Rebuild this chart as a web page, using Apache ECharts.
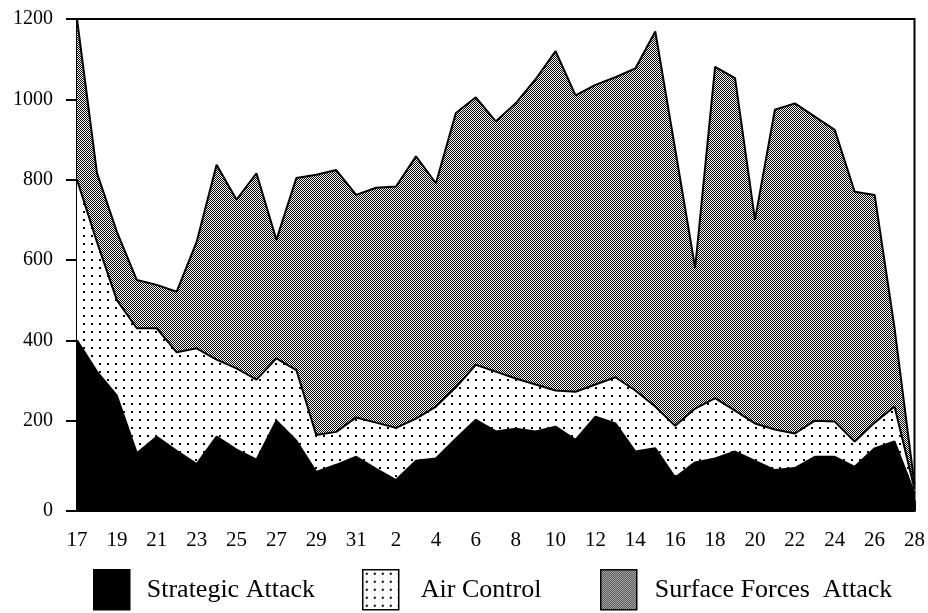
<!DOCTYPE html>
<html><head><meta charset="utf-8">
<script src="https://cdn.jsdelivr.net/npm/echarts@6/dist/echarts.min.js"></script>
<style>html,body{margin:0;padding:0;background:#fff}#c{width:928px;height:613px}</style>
</head><body><div id="c"></div>
<script>
// Days: 17 Jan .. 31 Jan, 1 Feb .. 28 Feb
const days = ['17','18','19','20','21','22','23','24','25','26','27','28','29','30','31',
  '1','2','3','4','5','6','7','8','9','10','11','12','13','14','15','16','17','18','19','20',
  '21','22','23','24','25','26','27','28'];

const strategicAttack = [400,322,262,119,160,125,92,160,128,103,200,150,72,90,110,80,52,100,106,155,
  202,173,180,173,185,152,210,193,123,131,58,96,106,123,100,77,82,110,110,85,131,148,19];

const airControl = [400,323,238,311,270,245,288,192,202,199,155,176,92,82,98,115,130,105,129,128,
  137,149,125,117,90,120,80,115,152,104,129,134,150,102,93,101,86,90,88,63,64,87,11];

const surfaceForcesAttack = [400,172,170,120,108,151,265,485,420,514,295,478,648,652,554,585,601,653,556,683,
  666,623,685,760,845,738,746,747,802,934,688,350,825,828,507,796,822,757,726,622,567,195,10];

const seriesNames = ['Strategic Attack', 'Air Control', 'Surface Forces  Attack'];
const yTicks = [0, 200, 400, 600, 800, 1000, 1200];
const yAxisMin = -25;   // the reference's "0" sits a little below the true zero line
const yAxisMax = 1200;

function makeChecker() {
  const c = document.createElement('canvas'); c.width = 2; c.height = 2;
  const g = c.getContext('2d');
  g.fillStyle = '#fff'; g.fillRect(0, 0, 2, 2);
  g.fillStyle = '#000'; g.fillRect(0, 0, 1, 1); g.fillRect(1, 1, 1, 1);
  return c;
}
function makeDots() {
  const c = document.createElement('canvas'); c.width = 8; c.height = 8;
  const g = c.getContext('2d');
  g.fillStyle = '#fff'; g.fillRect(0, 0, 8, 8);
  g.fillStyle = '#000'; g.fillRect(3, 3, 2, 2);
  return c;
}
const checkerFill = { image: makeChecker(), repeat: 'repeat' };
const dotFill = { image: makeDots(), repeat: 'repeat' };
const fills = ['#000', dotFill, checkerFill];
const values = [strategicAttack, airControl, surfaceForcesAttack];

const chart = echarts.init(document.getElementById('c'), null, { renderer: 'canvas' });
const serif = 'Liberation Serif, Times New Roman, serif';

const legendPos = [93, 362, 600];
const legendPad = [12, 17, 13];

chart.setOption({
  animation: false,
  backgroundColor: '#fff',
  grid: { left: 77, right: 10, top: 19, bottom: 102, show: true, borderColor: '#000', borderWidth: 2, backgroundColor: 'transparent' },
  legend: seriesNames.map((n, i) => ({
    data: [{ name: n, itemStyle: { color: fills[i], borderColor: '#000', borderWidth: 1.5 } }],
    left: legendPos[i], top: 569, padding: 0,
    itemWidth: 36, itemHeight: 40, icon: 'rect',
    selectedMode: false,
    textStyle: { fontFamily: serif, fontSize: 26, color: '#000', padding: [0, 0, 0, legendPad[i]] }
  })),
  xAxis: {
    type: 'category', data: days, boundaryGap: false,
    axisLine: { show: true, lineStyle: { color: '#000', width: 2 } },
    axisTick: { show: true, interval: 0, length: 10, lineStyle: { color: '#000', width: 2 } },
    axisLabel: { interval: 1, color: '#000', fontFamily: serif, fontSize: 21, margin: 19 },
    splitLine: { show: false }
  },
  yAxis: {
    type: 'value', min: yAxisMin, max: yAxisMax,
    axisLine: { show: true, lineStyle: { color: '#000', width: 2 } },
    axisTick: { show: true, length: 11, customValues: yTicks.map(v => v === 0 ? yAxisMin : v), lineStyle: { color: '#000', width: 2 } },
    axisLabel: { color: '#000', fontFamily: serif, fontSize: 20, margin: 24,
      customValues: yTicks.map(v => v === 0 ? yAxisMin : v),
      formatter: v => (v === yAxisMin ? '0' : String(v)) },
    splitLine: { show: false }
  },
  series: seriesNames.map((n, i) => ({
    name: n, type: 'line', stack: 'total', data: values[i],
    symbol: 'none', showSymbol: false,
    lineStyle: { color: '#000', width: 2 },
    itemStyle: { color: '#000' },
    areaStyle: i === 0 ? { color: fills[i], opacity: 1, origin: 'start' } : { color: fills[i], opacity: 1 },
    z: 2
  }))
});
</script></body></html>
